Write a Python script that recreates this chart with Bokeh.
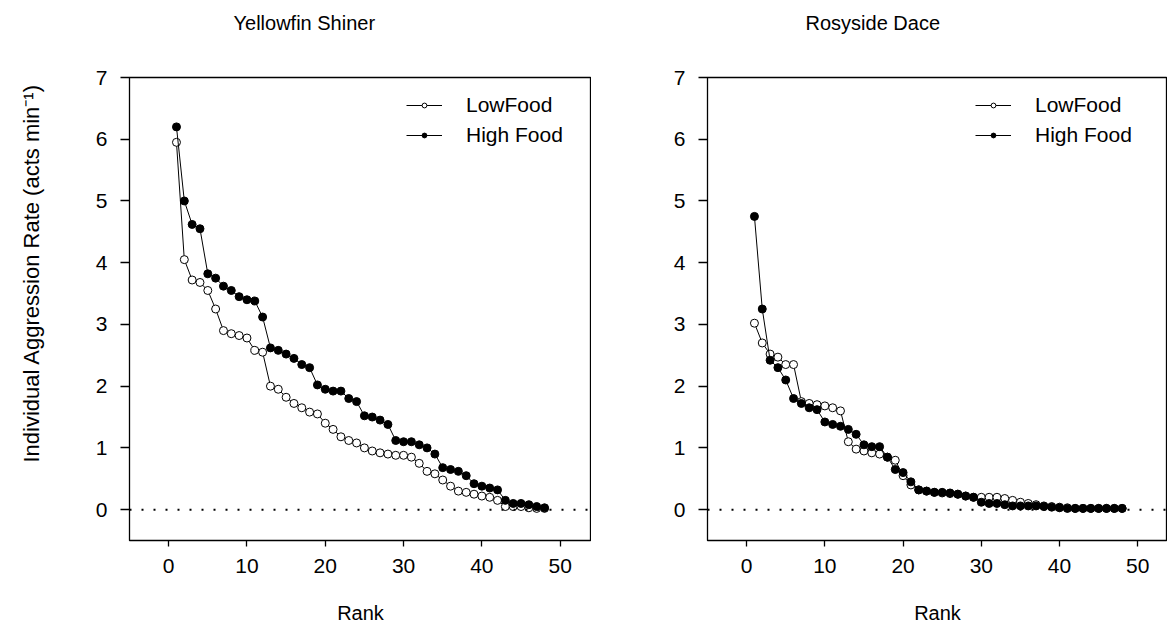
from bokeh.plotting import figure
from bokeh.models import Span, Legend, LegendItem, Range1d, FixedTicker, Title
from bokeh.layouts import row
from bokeh.embed import file_html
from bokeh.resources import INLINE

# ---- data ----
rank = list(range(1, 49))

ys_low = [5.95, 4.05, 3.72, 3.68, 3.55, 3.25, 2.90, 2.85, 2.82, 2.78, 2.58, 2.55,
          2.00, 1.95, 1.82, 1.72, 1.65, 1.58, 1.55, 1.40, 1.30, 1.18, 1.12, 1.08,
          1.00, 0.95, 0.92, 0.90, 0.88, 0.88, 0.85, 0.75, 0.62, 0.58, 0.48, 0.38,
          0.30, 0.28, 0.25, 0.22, 0.20, 0.15, 0.05, 0.05, 0.05, 0.03, 0.02, 0.02]
ys_high = [6.20, 5.00, 4.62, 4.55, 3.82, 3.75, 3.62, 3.55, 3.45, 3.40, 3.38, 3.12,
           2.62, 2.58, 2.52, 2.45, 2.35, 2.30, 2.02, 1.95, 1.92, 1.92, 1.80, 1.75,
           1.52, 1.50, 1.45, 1.38, 1.12, 1.10, 1.10, 1.05, 1.00, 0.90, 0.68, 0.65,
           0.62, 0.55, 0.42, 0.38, 0.35, 0.32, 0.15, 0.10, 0.10, 0.08, 0.05, 0.03]

rd_low = [3.02, 2.70, 2.52, 2.47, 2.35, 2.35, 1.75, 1.72, 1.70, 1.68, 1.65, 1.60,
          1.10, 0.98, 0.95, 0.92, 0.90, 0.85, 0.80, 0.55, 0.40, 0.32, 0.30, 0.28,
          0.27, 0.26, 0.25, 0.22, 0.20, 0.20, 0.20, 0.20, 0.18, 0.15, 0.12, 0.10,
          0.08, 0.06, 0.05, 0.04, 0.03, 0.02, 0.02, 0.02, 0.02, 0.02, 0.02, 0.02]
rd_high = [4.75, 3.25, 2.42, 2.30, 2.10, 1.80, 1.72, 1.65, 1.62, 1.42, 1.38, 1.35,
           1.30, 1.22, 1.05, 1.02, 1.02, 0.85, 0.65, 0.60, 0.45, 0.32, 0.30, 0.28,
           0.28, 0.27, 0.25, 0.22, 0.20, 0.12, 0.10, 0.10, 0.08, 0.06, 0.06, 0.06,
           0.06, 0.05, 0.04, 0.03, 0.02, 0.02, 0.02, 0.02, 0.02, 0.02, 0.02, 0.02]

x_ticks = [0, 10, 20, 30, 40, 50]
y_ticks = [0, 1, 2, 3, 4, 5, 6, 7]
titles = ["Yellowfin Shiner", "Rosyside Dace"]
series_names = ["LowFood", "High Food"]
y_label = "Individual Aggression Rate (acts min\u207b\u00b9)"
x_label = "Rank"

FONT = "Liberation Sans"


def spacer(standoff):
    return Title(text=" ", text_font=FONT, text_font_size="10px",
                 text_color="white", standoff=standoff)


def make_panel(title, low, high, width, border_left, x_end, show_ylabel,
               legend_x, title_offset):
    p = figure(width=width, height=636,
               x_range=Range1d(-5, x_end), y_range=Range1d(-0.5, 7),
               output_backend="svg", toolbar_location=None,
               min_border_left=border_left, min_border_right=0,
               min_border_top=77, min_border_bottom=96)
    p.background_fill_color = "white"
    p.border_fill_color = "white"
    p.outline_line_color = "black"
    p.outline_line_width = 1.3
    p.xgrid.visible = False
    p.ygrid.visible = False

    # title sits well above the frame: a blank spacer first, then the title
    p.add_layout(spacer(28), "above")
    p.add_layout(Title(text=title, text_font=FONT, text_font_size="20px",
                       text_font_style="normal", text_color="black",
                       align="left", offset=title_offset, standoff=6),
                 "above")

    for ax, ticks in ((p.xaxis[0], x_ticks), (p.yaxis[0], y_ticks)):
        ax.ticker = FixedTicker(ticks=ticks)
        ax.minor_tick_line_color = None
        ax.major_tick_in = 0
        ax.axis_line_color = "black"
        ax.major_tick_line_color = "black"
        ax.major_tick_line_width = 1.3
        ax.major_label_text_font = FONT
        ax.major_label_text_font_size = "21px"
        ax.major_label_text_color = "black"
        ax.axis_label_text_font = FONT
        ax.axis_label_text_font_size = "20px"
        ax.axis_label_text_font_style = "normal"
        ax.axis_label_text_color = "black"
    p.xaxis.major_tick_out = 6
    p.yaxis.major_tick_out = 9
    p.xaxis.major_label_standoff = 12
    p.yaxis.major_label_standoff = 13
    p.xaxis.axis_label = x_label
    p.xaxis.axis_label_standoff = 26
    if show_ylabel:
        p.add_layout(spacer(36), "left")
        p.add_layout(Title(text=y_label, text_font=FONT, text_font_size="22px",
                           text_font_style="normal", text_color="black",
                           align="left", offset=78, standoff=0), "left")

    p.add_layout(Span(location=0, dimension="width", line_color="black",
                      line_width=2, line_dash="2 10"))

    l_line = p.line(rank, low, line_color="black", line_width=1)
    l_pts = p.scatter(rank, low, size=8, marker="circle", fill_color="white",
                      line_color="black", line_width=1)
    h_line = p.line(rank, high, line_color="black", line_width=1)
    h_pts = p.scatter(rank, high, size=8, marker="circle", fill_color="black",
                      line_color="black", line_width=1)

    legend = Legend(items=[
        LegendItem(label=series_names[0], renderers=[l_line, l_pts]),
        LegendItem(label=series_names[1], renderers=[h_line, h_pts]),
    ], location=(legend_x, 393))
    legend.glyph_width = 36
    legend.glyph_height = 12
    legend.label_height = 24
    legend.spacing = 6
    legend.padding = 0
    legend.margin = 0
    legend.label_standoff = 24
    legend.label_text_font = FONT
    legend.label_text_font_size = "21px"
    legend.label_text_color = "black"
    legend.border_line_alpha = 0
    legend.background_fill_alpha = 0
    p.add_layout(legend)
    return p


p1 = make_panel(titles[0], ys_low, ys_high, 591, 129, 54.0, True, 277, 104)
p2 = make_panel(titles[1], rd_low, rd_high, 576, 116, 53.8, False, 268, 98)

layout = row(p1, p2)
open("out.html", "w").write(file_html(layout, INLINE))
